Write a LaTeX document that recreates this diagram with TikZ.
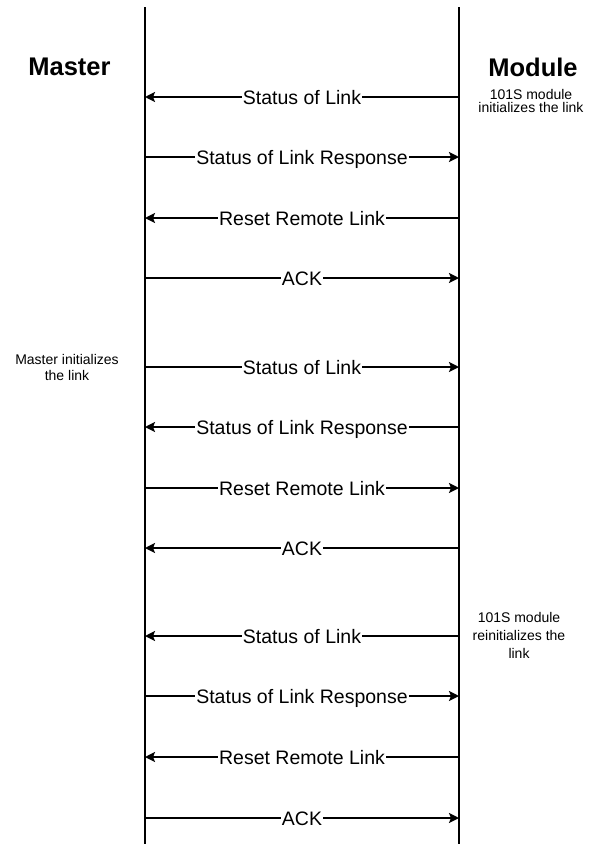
\documentclass[tikz,border=0pt]{standalone}
\usepackage{fontspec}
\setmainfont{Liberation Sans}
\usetikzlibrary{arrows.meta}
\begin{document}
\begin{tikzpicture}[x=1pt,y=-1pt,
  life/.style={line width=2.4pt},
  msg/.style={line width=2.2pt,-{Stealth[length=10pt,width=10pt,inset=2pt]}},
  lbl/.style={fill=white,inner xsep=1.2pt,inner ysep=0pt,text height=14pt,text depth=0pt,font=\fontsize{19.5}{22}\selectfont},
  party/.style={font=\bfseries\fontsize{25.5}{28}\selectfont},
  note/.style={align=center,inner sep=0pt,font=\fontsize{14}{15}\selectfont}]
\useasboundingbox (0,0) rectangle (589,844);
\coordinate (mastertop) at (145,7);
\coordinate (masterbot) at (145,844);
\coordinate (moduletop) at (459,7);
\coordinate (modulebot) at (459,844);
\draw[life] (mastertop) -- (masterbot);
\draw[life] (moduletop) -- (modulebot);
\node[party] (master) at (69.5,67) {Master};
\node[party] (module) at (533,67) {Module};
\node[note,font=\fontsize{14}{12.5}\selectfont] (modinit) at (531,101) {101S module\\initializes the link};
\node[note,font=\fontsize{14}{16}\selectfont] (masinit) at (67,367) {Master initializes\\the link};
\node[note,font=\fontsize{14}{18}\selectfont] (modreinit) at (519,635) {101S module\\reinitializes the\\link};
\foreach \y [count=\i] in {97,157,218,278,367,427,488,548,636,696,757,818} {
  \coordinate (ma\i) at (145,\y);
  \coordinate (mo\i) at (459,\y);
}
\draw[msg] (mo1) -- node[lbl] {Status of Link} (ma1);
\draw[msg] (ma2) -- node[lbl] {Status of Link Response} (mo2);
\draw[msg] (mo3) -- node[lbl] {Reset Remote Link} (ma3);
\draw[msg] (ma4) -- node[lbl] {ACK} (mo4);
\draw[msg] (ma5) -- node[lbl] {Status of Link} (mo5);
\draw[msg] (mo6) -- node[lbl] {Status of Link Response} (ma6);
\draw[msg] (ma7) -- node[lbl] {Reset Remote Link} (mo7);
\draw[msg] (mo8) -- node[lbl] {ACK} (ma8);
\draw[msg] (mo9) -- node[lbl] {Status of Link} (ma9);
\draw[msg] (ma10) -- node[lbl] {Status of Link Response} (mo10);
\draw[msg] (mo11) -- node[lbl] {Reset Remote Link} (ma11);
\draw[msg] (ma12) -- node[lbl] {ACK} (mo12);
\end{tikzpicture}
\end{document}
